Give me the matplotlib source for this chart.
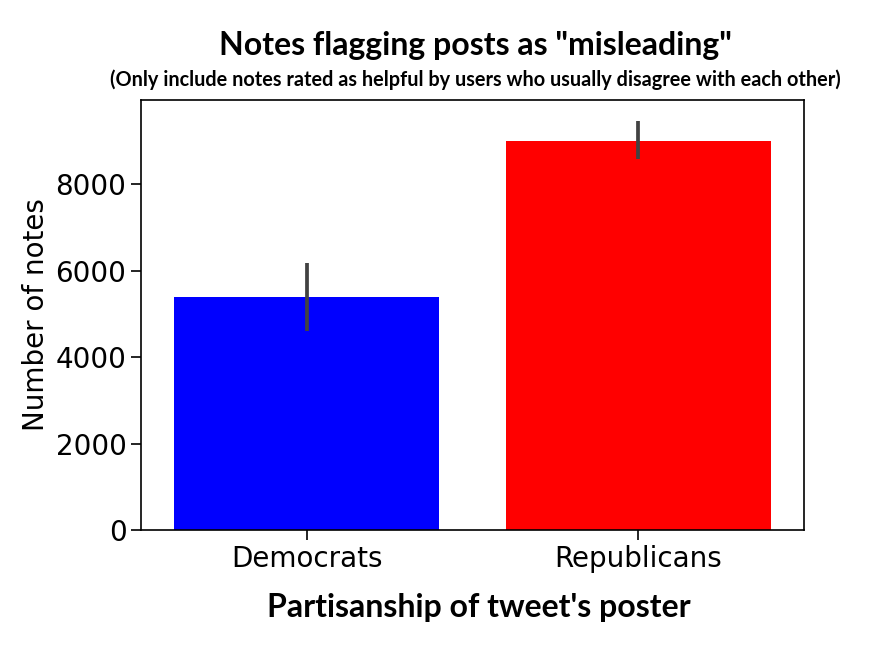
import numpy as np
import matplotlib.pyplot as plt

parties = ['Democrats', 'Republicans']
notes = [5390, 8995]
err_low = [790, 420]
err_high = [785, 470]
bar_colors = ['blue', 'red']

fig = plt.figure(figsize=(8.73, 6.65), dpi=100)
ax = fig.add_axes([141/873, 1 - 530/665, 663/873, 430/665])

x = np.arange(len(parties))
ax.bar(x, notes, width=0.8, color=bar_colors)
ax.errorbar(x, notes, yerr=[err_low, err_high], fmt='none',
            ecolor='#424242', elinewidth=2.7, capsize=0)
ax.set_xlim(-0.5, 1.5)
ax.set_ylim(0, 9950)
ax.set_xticks(x)
ax.set_xticklabels(parties)
ax.set_yticks([0, 2000, 4000, 6000, 8000])
ax.tick_params(labelsize=20, length=7, width=1.2)
ax.set_ylabel('Number of notes', fontsize=20, labelpad=4)
for s in ax.spines.values():
    s.set_linewidth(1.2)

fig.text(0.545, 1 - 45/665, 'Notes flagging posts as "misleading"',
         ha='center', va='center', fontsize=23, fontweight='bold', family='Lato')
fig.text(0.545, 1 - 80/665, '(Only include notes rated as helpful by users who usually disagree with each other)',
         ha='center', va='center', fontsize=14.3, fontweight='bold', family='Lato')
fig.text(0.549, 1 - 607/665, "Partisanship of tweet's poster",
         ha='center', va='center', fontsize=23, fontweight='bold', family='Lato')

fig.savefig('out.png', dpi=100)
